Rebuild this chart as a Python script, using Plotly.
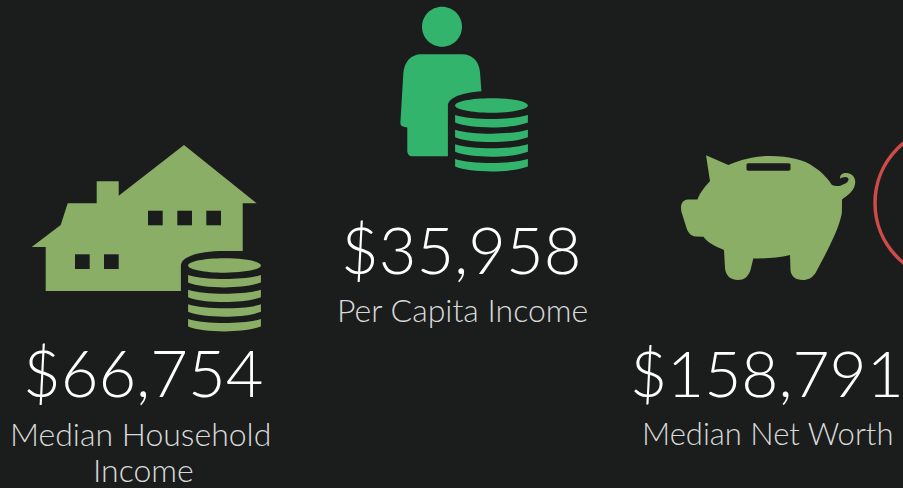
import plotly.graph_objects as go

values = ["$66,754", "$35,958", "$158,791"]
label_lines = ["Median Household", "Income", "Per Capita Income", "Median Net Worth"]

BG = "#1b1d1d"
SAGE = "#8aae66"
GREEN = "#33b46d"
RED = "#cf4a48"
W, H = 903, 488
FONT = "Lato"

shapes = []


def path(d, color):
    shapes.append(dict(type="path", path=d, fillcolor=color, line=dict(width=0), xref="x", yref="y", layer="above"))


def rect(x0, y0, x1, y1, color):
    path(f"M{x0},{y0} L{x1},{y0} L{x1},{y1} L{x0},{y1} Z", color)


def ell(cx, cy, rx, ry, color):
    k = 0.5523
    path(
        f"M{cx-rx},{cy} C{cx-rx},{cy-k*ry} {cx-k*rx},{cy-ry} {cx},{cy-ry} "
        f"C{cx+k*rx},{cy-ry} {cx+rx},{cy-k*ry} {cx+rx},{cy} "
        f"C{cx+rx},{cy+k*ry} {cx+k*rx},{cy+ry} {cx},{cy+ry} "
        f"C{cx-k*rx},{cy+ry} {cx-rx},{cy+k*ry} {cx-rx},{cy} Z",
        color,
    )


def coins(cx, cy, color):
    rx, ry = 36.4, 7.2
    # dark halo
    path(
        f"M{cx-43.6},{cy+70} L{cx-43.6},{cy} C{cx-43.6},{cy-9} {cx-25},{cy-14.5} {cx},{cy-14.5} "
        f"L{cx+22},{cy-14.5} L{cx+22},{cy+70} Z",
        BG,
    )
    ell(cx, cy, rx, ry, color)
    for k in range(4):
        off = 14.67 * k
        et, eb = cy + 9.5 + off, cy + 17 + off
        ct, cb = et + 5.3, eb + 6.5
        path(
            f"M{cx-rx},{et} C{cx-rx*0.55},{ct} {cx+rx*0.55},{ct} {cx+rx},{et} "
            f"L{cx+rx},{eb} C{cx+rx*0.55},{cb} {cx-rx*0.55},{cb} {cx-rx},{eb} Z",
            color,
        )


# house
path(
    "M184,145 L256.7,203.3 L242.7,203.3 L242.7,251 L242.7,291 L45.7,291 L45.7,247 L31.7,247 "
    "L60.7,225 L67.7,203.3 L96.7,203.3 L96.7,181.3 L118.7,181.3 L118.7,195.7 Z",
    SAGE,
)
for x0 in (148, 177.3, 206.3):
    rect(x0, 210.7, x0 + 14.7, 225.3, BG)
for x0 in (75, 104):
    rect(x0, 254.3, x0 + 14.7, 269, BG)
coins(224.5, 265.5, SAGE)

# person
ell(442, 26.7, 20, 20, GREEN)
path(
    "M403.3,74 C404,62 411,54.3 421,54.3 L462,54.3 C472,54.3 479,61 480,72 L482,100 "
    "L460,156.3 L413,156.3 C409,156.3 407.3,154 407.3,151 L407.3,127.5 L403,126.5 "
    "C401,126 400.3,124.5 400.4,122.5 Z",
    GREEN,
)
path("M448.3,156.5 L470,156.5 L482,100 L448.3,100 Z", GREEN)
coins(491.5, 105.5, GREEN)

# pig
path(
    "M706,155.3 L728.3,165 C745,158 757,156 770,156 C790,156 805,160 814,167 "
    "C822,172 828,179 832,185 C836,187 840,186 843,184.5 C848,183 849.5,180 848,178 "
    "C846,176 842,177.5 840,178.5 C840,173 845,172.5 849,173.5 C854,175 856,180 855,184 "
    "C854,191 848,195 842,199.5 C842,206 842,211 841.7,214 C838,232 825,255 815.5,273 "
    "C812,278 808,280 803,280 C795,280 791,276 790.5,270 L790,255 C778,258 765,258.5 753.3,258.5 "
    "L750.5,270 C748,277 744,280 738,280 C730,280 725.5,275 725,268 L724,250 "
    "C715,246 708,243 703.5,236.7 L696,236.5 C690,236 688,232 686.5,228 L681.5,212 "
    "C680,205 682,200 688,199.5 L697.5,199.5 C700,192 705,187 710,181 Z",
    SAGE,
)
path(
    "M748.5,163.3 L788.5,163.3 C790,163.3 790.5,164 790.5,165 L790.5,169 C790.5,170 790,170.7 788.5,170.7 "
    "L748.5,170.7 C747,170.7 746.5,170 746.5,169 L746.5,165 C746.5,164 747,163.3 748.5,163.3 Z",
    BG,
)

# red ring
shapes.append(dict(type="circle", x0=875, x1=1029, y0=126, y1=280, xref="x", yref="y",
                   fillcolor="rgba(0,0,0,0)", line=dict(color=RED, width=3.5)))

value_pos = [(142.5, 372), (461, 249), (767, 372)]
label_pos = [(140, 433), (143.5, 469.5), (462, 309.5), (768, 433)]
label_sizes = [32, 32, 32, 31]
value_sizes = [65, 65, 64]

annotations = []
for v, (x, y), s in zip(values, value_pos, value_sizes):
    annotations.append(dict(x=x, y=y, text=v, showarrow=False, xanchor="center", yanchor="middle",
                            font=dict(family=FONT, size=s, color="#ffffff", weight=300)))
for t, (x, y), s in zip(label_lines, label_pos, label_sizes):
    annotations.append(dict(x=x, y=y, text=t, showarrow=False, xanchor="center", yanchor="middle",
                            font=dict(family=FONT, size=s, color="#d8d9d9", weight=300)))

fig = go.Figure()
fig.update_layout(
    width=W, height=H, margin=dict(l=0, r=0, t=0, b=0),
    paper_bgcolor=BG, plot_bgcolor=BG, showlegend=False,
    xaxis=dict(range=[0, W], visible=False, fixedrange=True),
    yaxis=dict(range=[H, 0], visible=False, fixedrange=True),
    shapes=shapes, annotations=annotations,
)
fig.write_html(
    "out.html",
    config=dict(displayModeBar=False),
    post_script="document.body.style.margin='0';document.body.style.background='%s';document.documentElement.style.overflow='hidden';" % BG,
)
